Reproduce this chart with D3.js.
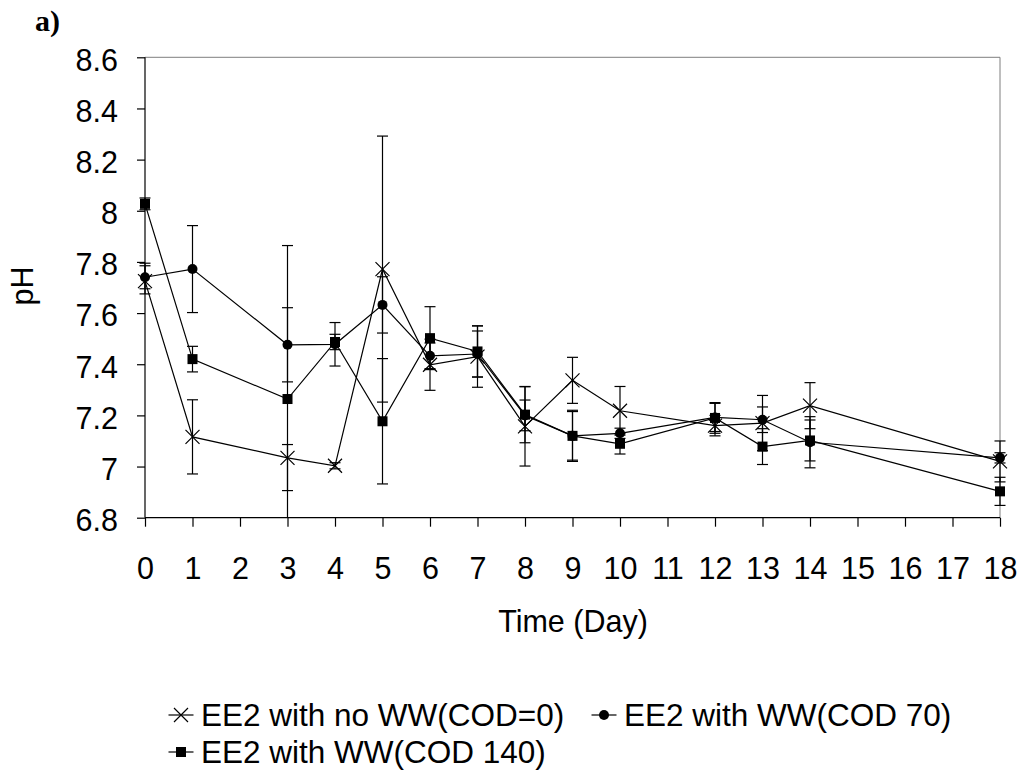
<!DOCTYPE html>
<html><head><meta charset="utf-8">
<script src="https://cdn.jsdelivr.net/npm/d3@7"></script>
<style>body{margin:0;background:#fff}svg{display:block}</style>
</head><body>
<svg id="c" width="1022" height="779"></svg>
<script>
// ---- data ----
const days = [0, 1, 3, 4, 5, 6, 7, 8, 9, 10, 12, 13, 14, 18];
const xTickValues = [0,1,2,3,4,5,6,7,8,9,10,11,12,13,14,15,16,17,18];
const yTickValues = [6.8, 7, 7.2, 7.4, 7.6, 7.8, 8, 8.2, 8.4, 8.6];
const yTickLabels = ["6.8","7","7.2","7.4","7.6","7.8","8","8.2","8.4","8.6"];
const seriesNames = ["EE2 with no WW(COD=0)", "EE2 with WW(COD 70)", "EE2 with WW(COD 140)"];

const phNoWW   = [7.725, 7.116, 7.034, 7.003, 7.772, 7.398, 7.43, 7.157, 7.337, 7.218, 7.16, 7.17, 7.238, 7.02];
const upNoWW   = [0.07, 0.145, 0.052, 0.012, 0.52, 0.1, 0.12, 0.155, 0.09, 0.095, 0.04, 0.108, 0.09, 0.08];
const downNoWW = [0.05, 0.145, 0.128, 0.012, 0.52, 0.1, 0.12, 0.155, 0.09, 0.095, 0.04, 0.108, 0.09, 0.08];

const ph70   = [7.74, 7.772, 7.476, 7.478, 7.632, 7.433, 7.44, 7.2, 7.12, 7.13, 7.192, 7.183, 7.095, 7.034];
const up70   = [0.045, 0.17, 0.145, 0.085, 0.11, 0.05, 0.09, 0.06, 0.1, 0.02, 0.055, 0.05, 0.1, 0.02];
const down70 = [0.045, 0.17, 0.145, 0.085, 0.11, 0.05, 0.09, 0.06, 0.1, 0.02, 0.055, 0.05, 0.1, 0.02];

const ph140   = [8.027, 7.42, 7.264, 7.487, 7.177, 7.502, 7.45, 7.203, 7.12, 7.089, 7.19, 7.078, 7.102, 6.903];
const up140   = [0.023, 0.05, 0.6, 0.03, 0.245, 0.123, 0.1, 0.11, 0.095, 0.04, 0.06, 0.07, 0.08, 0.055];
const down140 = [0.023, 0.05, 0.6, 0.03, 0.245, 0.123, 0.1, 0.11, 0.095, 0.04, 0.06, 0.07, 0.08, 0.055];

// ---- build ----
const series = [
  {name: seriesNames[0], vals: phNoWW, up: upNoWW, down: downNoWW, marker: "x"},
  {name: seriesNames[1], vals: ph70,   up: up70,   down: down70,   marker: "circle"},
  {name: seriesNames[2], vals: ph140,  up: up140,  down: down140,  marker: "square"}
];

const svg = d3.select("#c");
const FONT = "'Liberation Sans', Arial, sans-serif";
const FS = 30.5;
const LFS = 31.5;
const x = d3.scaleLinear().domain([0, 18]).range([145, 1000]);
const y = d3.scaleLinear().domain([6.8, 8.6]).range([517.7, 57.3]);

// plot border (top/right)
svg.append("path")
  .attr("d", `M${x(0)},${y(8.6)}H${x(18)}V${y(6.8)}`)
  .attr("fill", "none").attr("stroke", "#7f7f7f").attr("stroke-width", 1);

// axes
const yAxis = d3.axisLeft(y).tickValues(yTickValues)
  .tickFormat((d, i) => yTickLabels[i]).tickSize(8).tickPadding(19);
const gy = svg.append("g").attr("transform", `translate(${x(0)},0)`).call(yAxis);
gy.selectAll("text").attr("dy", "0.42em");

const xAxis = d3.axisBottom(x).tickValues(xTickValues).tickFormat(d => String(d))
  .tickSize(9).tickPadding(31);
const gx = svg.append("g").attr("transform", `translate(0,${y(6.8)})`).call(xAxis);
gx.selectAll("text").attr("dy", "0.71em");

[gx, gy].forEach(g => {
  g.select(".domain").attr("stroke", "#000").attr("stroke-width", 1.2);
  g.selectAll(".tick line").attr("stroke", "#000").attr("stroke-width", 1.2);
  g.selectAll("text").attr("font-family", FONT).attr("font-size", FS).attr("fill", "#000");
});
gy.select(".domain").attr("d", `M0,${y(8.6)}V${y(6.8)}`);
gx.select(".domain").attr("d", `M${x(0)},0H${x(18)}`);

// titles
svg.append("text").attr("x", 573).attr("y", 632).attr("text-anchor", "middle")
  .attr("font-family", FONT).attr("font-size", FS).text("Time (Day)");
svg.append("text").attr("transform", "translate(33,286) rotate(-90)").attr("text-anchor", "middle")
  .attr("font-family", FONT).attr("font-size", FS).text("pH");
svg.append("text").attr("x", 35).attr("y", 31)
  .attr("font-family", "'Liberation Serif', 'Times New Roman', serif").attr("font-weight", "bold")
  .attr("font-size", 30).text("a)");

// marker drawer
function drawMarker(g, type, cx, cy) {
  if (type === "x") {
    const s = 7;
    g.append("path").attr("d", `M${cx-s},${cy-s}L${cx+s},${cy+s}M${cx-s},${cy+s}L${cx+s},${cy-s}`)
      .attr("stroke", "#000").attr("stroke-width", 1.2).attr("fill", "none");
  } else if (type === "circle") {
    g.append("circle").attr("cx", cx).attr("cy", cy).attr("r", 5).attr("fill", "#000");
  } else {
    g.append("rect").attr("x", cx - 5).attr("y", cy - 5).attr("width", 10).attr("height", 10).attr("fill", "#000");
  }
}

const line = d3.line().x(d => x(d.day)).y(d => y(d.v));
const cap = 5.5;

series.forEach(s => {
  const g = svg.append("g");
  const pts = days.map((d, i) => ({day: d, v: s.vals[i], up: s.up[i], down: s.down[i]}));
  pts.forEach(p => {
    const hi = Math.min(8.6, p.v + p.up), lo = Math.max(6.8, p.v - p.down);
    const cx = x(p.day);
    g.append("line").attr("x1", cx).attr("x2", cx).attr("y1", y(hi)).attr("y2", y(lo))
      .attr("stroke", "#000").attr("stroke-width", 1.2);
    if (p.v + p.up <= 8.6)
      g.append("line").attr("x1", cx - cap).attr("x2", cx + cap).attr("y1", y(hi)).attr("y2", y(hi))
        .attr("stroke", "#000").attr("stroke-width", 1.2);
    if (p.v - p.down >= 6.8)
      g.append("line").attr("x1", cx - cap).attr("x2", cx + cap).attr("y1", y(lo)).attr("y2", y(lo))
        .attr("stroke", "#000").attr("stroke-width", 1.2);
  });
  g.append("path").datum(pts).attr("d", line).attr("fill", "none")
    .attr("stroke", "#000").attr("stroke-width", 1.2);
  pts.forEach(p => drawMarker(g, s.marker, x(p.day), y(p.v)));
});

// legend
const legendPos = [{lx: 181, ly: 715}, {lx: 604, ly: 715}, {lx: 181, ly: 752}];
series.forEach((s, i) => {
  const p = legendPos[i];
  const g = svg.append("g");
  g.append("line").attr("x1", p.lx - 12.5).attr("x2", p.lx + 12.5).attr("y1", p.ly).attr("y2", p.ly)
    .attr("stroke", "#000").attr("stroke-width", 1.2);
  drawMarker(g, s.marker, p.lx, p.ly);
  g.append("text").attr("x", p.lx + 20).attr("y", p.ly + 11)
    .attr("font-family", FONT).attr("font-size", LFS).text(s.name);
});
</script>
</body></html>
